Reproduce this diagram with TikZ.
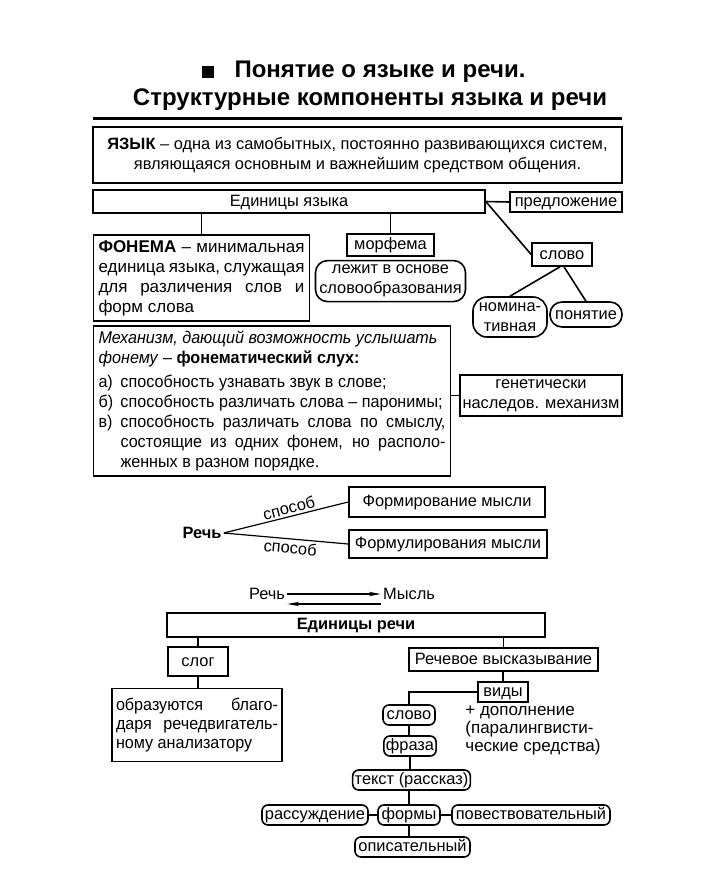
\documentclass[tikz,border=0pt]{standalone}
\usepackage{fontspec}
\setmainfont{Liberation Sans}
\newfontfamily\narrowfont{Liberation Sans}[FakeStretch=0.95]
\usetikzlibrary{arrows.meta,positioning,calc}

\begin{document}
\begin{tikzpicture}[
  x=0.5pt, y=-0.5pt,
  font=\fontsize{8.2}{10}\selectfont, >={Stealth[length=6pt,width=2.2pt]},
  box/.style={draw, thick, align=center, inner sep=1pt},
  unit/.style={box, text height=6.4pt, text depth=1.6pt},
  rnd/.style={unit, rounded corners=3pt},
  note/.style={box, align=justify, inner sep=2.5pt},
  bold/.style={font=\fontsize{8.2}{10}\selectfont\bfseries},
  head/.style={font=\fontsize{12}{14}\selectfont\bfseries, inner sep=0pt},
  line/.style={thick},
]
\useasboundingbox (0,0) rectangle (720,880);

% title
\node[head] (ttl) at (380,72) {Понятие о языке и речи.};
\node[fill, minimum size=6pt, inner sep=0pt, left=10pt of ttl] (bullet) {};
\node[head] (sub) at (370,100) {Структурные компоненты языка и речи};
\draw[line width=1.5pt] (93,118) -- (622,118);

% language
\node[box, line width=1.3pt, minimum width=264.5pt, minimum height=28pt,
  font=\fontsize{8.2}{10}\selectfont] (lang) at (357.5,155)
  {\textbf{ЯЗЫК} – одна из самобытных, постоянно развивающихся систем,\\
   являющаяся основным и важнейшим средством общения.};

\node[unit, minimum width=196pt, minimum height=11.5pt] (langunits) at (289,201.5) {Единицы языка};
\node[unit, minimum width=56pt, minimum height=10pt] (sentence) at (566,202) {предложение};
\node[unit, minimum width=30pt, minimum height=11.5pt] (word) at (562,254.5) {слово};
\node[box, rounded corners=7pt, minimum width=37pt, minimum height=20pt] (nomin) at (510,317) {номина-\\тивная};
\node[rnd, rounded corners=6pt, minimum width=36pt, minimum height=12.5pt] (concept) at (586,314.5) {понятие};

\node[note, text width=103pt, minimum height=43pt, font=\fontsize{8.5}{10}\selectfont] (phoneme) at (201.5,278)
  {\textbf{ФОНЕМА} – минимальная\linebreak единица языка, служащая\linebreak для различения слов и\linebreak форм слова};
\node[unit, minimum width=43.5pt, minimum height=11pt] (morpheme) at (390.5,245) {морфема};
\node[box, rounded corners=6pt, minimum width=75pt, minimum height=20.5pt, below=1.5pt of morpheme] (wordbase)
  {лежит в основе\\словообразования};

\node[note, text width=173.5pt, minimum height=75pt, font=\narrowfont\fontsize{8.5}{10}\selectfont] (hearing) at (272,401)
  {\textit{Механизм, дающий возможность услышать}\\
   \textit{фонему} – \textbf{фонематический слух:}\\[2pt]
   \makebox[11pt][l]{а)}способность узнавать звук в слове;\\
   \makebox[11pt][l]{б)}способность различать слова – паронимы;\\
   \makebox[11pt][l]{в)}способность различать слова по смыслу,\linebreak
   \hspace*{11pt}состоящие из одних фонем, но располо-\linebreak
   \hspace*{11pt}женных в разном порядке.};
\node[box, minimum width=81pt, minimum height=20.5pt, inner sep=0.5pt] (genetic) at (541,395.5)
  {генетически\\наследов. механизм};

\draw[line] (langunits.east) -- (sentence.west);
\draw[line] (langunits.east) -- (word.west);
\draw[line] ([xshift=-1pt]word.south) -- (nomin.north);
\draw[line] ([xshift=1pt]word.south) -- (concept.north);
\draw[line] (phoneme.north) -- (phoneme.north |- langunits.south);
\draw[line] (morpheme.north) -- (morpheme.north |- langunits.south);
\draw[line] (genetic.west) -- (genetic.west -| hearing.east);

% speech
\node[bold, inner sep=1pt] (speech) at (202,533) {Речь};
\node[unit, minimum width=98pt, minimum height=15pt] (forming) at (447,502) {Формирование мысли};
\node[unit, minimum width=99pt, minimum height=14pt] (wording) at (448,544) {Формулирования мысли};
\draw[semithick] (speech.east) -- node[sloped, above, pos=0.54, inner sep=1pt] {способ} (forming.west);
\draw[semithick] (speech.east) -- node[sloped, below, pos=0.54, inner sep=1pt] {способ} (wording.west);

\node[inner sep=1pt] (speech2) at (267,594) {Речь};
\node[inner sep=1pt] (thought) at (409,594) {Мысль};
\draw[->, semithick] (speech2.east) -- (thought.west);
\draw[->, semithick] ([yshift=-5pt]thought.west) -- ([yshift=-5pt]speech2.east);

\node[unit, bold, minimum width=189pt, minimum height=12pt] (speechunits) at (356,625) {Единицы речи};
\node[unit, minimum width=30pt, minimum height=14.5pt] (syllable) at (198,661.5) {слог};
\node[note, text width=81pt, inner xsep=2pt, minimum height=36.5pt, font=\narrowfont\fontsize{8.5}{9.5}\selectfont] (syllnote) at (197,725)
  {образуются благо-\linebreak даря речедвигатель-\linebreak ному анализатору};
\node[unit, minimum width=94.5pt, minimum height=11.5pt] (utterance) at (503.5,659.5) {Речевое высказывание};
\node[unit, minimum width=25pt, minimum height=10pt] (kinds) at (503,692) {виды};
\node[rnd, minimum width=26pt, minimum height=10pt] (word2) at (409,715) {слово};
\node[rnd, minimum width=26pt, minimum height=10pt] (phrase) at (410,746) {фраза};
\node[anchor=north west, align=left, inner sep=0pt, font=\fontsize{8.5}{9}\selectfont] (extra) at (465,705)
  {+ дополнение\\(паралингвисти-\\ческие средства)};
\node[rnd, minimum width=58.5pt, minimum height=10pt] (story) at (411.5,780) {текст (рассказ)};
\node[rnd, minimum width=31pt, minimum height=10pt] (forms) at (409,815) {формы};
\node[rnd, minimum width=53pt, minimum height=10pt] (reasoning) at (315,815) {рассуждение};
\node[rnd, minimum width=79pt, minimum height=10pt] (narrative) at (531,815) {повествовательный};
\node[rnd, minimum width=57.5pt, minimum height=10pt] (descriptive) at (412.5,847) {описательный};

\draw[line] (syllable.north) -- (syllable.north |- speechunits.south);
\draw[line] (syllable.south) -- (syllable.south |- syllnote.north);
\draw[line] (utterance.north) -- (utterance.north |- speechunits.south);
\draw[line] (kinds.north) -- (kinds.north |- utterance.south);
\draw[line] (kinds.west) -| (word2.north);
\draw[line] (word2.south) -- (word2.south |- phrase.north);
\draw[line] (phrase.south) -- (phrase.south |- story.north);
\draw[line] (forms.north) -- (forms.north |- story.south);
\draw[line] (reasoning.east) -- (forms.west);
\draw[line] (forms.east) -- (narrative.west);
\draw[line] (forms.south) -- (forms.south |- descriptive.north);
\end{tikzpicture}
\end{document}
